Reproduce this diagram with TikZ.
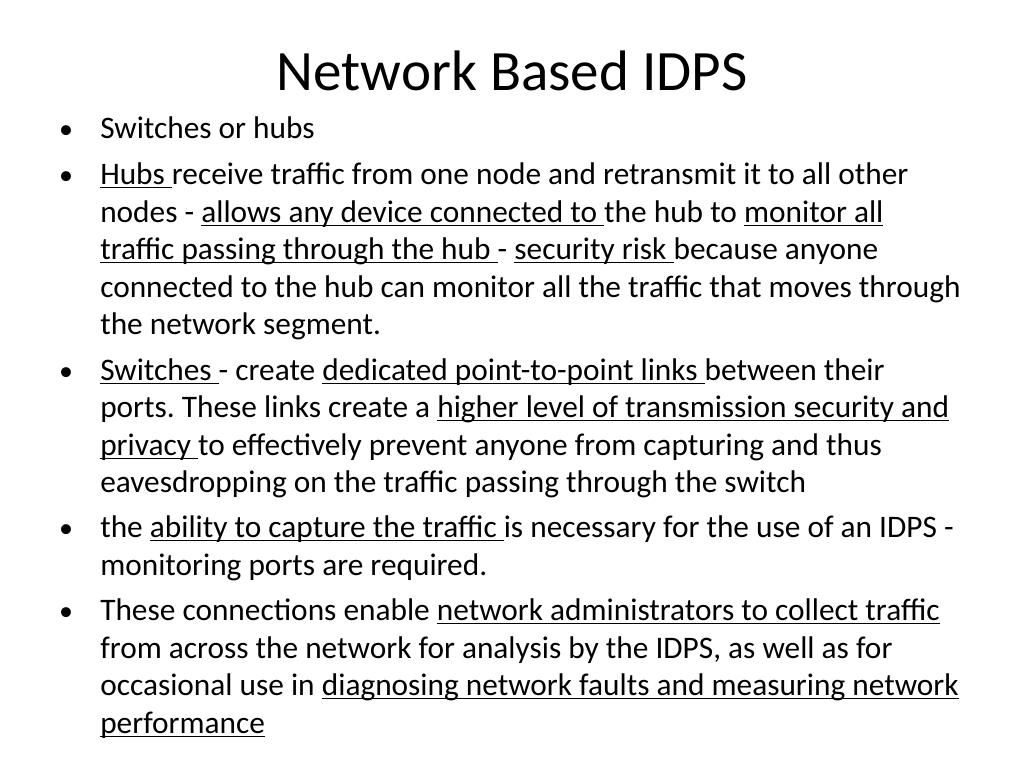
\documentclass[tikz,border=0pt]{standalone}
\usepackage{fontspec}
\setmainfont{Carlito}
\frenchspacing
\newcommand\myul[1]{\setbox0\hbox{#1}\rlap{\rule[-3.2pt]{\wd0}{0.9pt}}\box0}
\begin{document}
\begin{tikzpicture}[x=0.75pt,y=-0.75pt,
  ln/.style={anchor=base west,inner sep=0pt,font=\fontsize{23.5}{28}\selectfont},
  bl/.style={anchor=base,inner sep=0pt,font=\fontsize{21}{28}\selectfont}]
\useasboundingbox[fill=white] (0,0) rectangle (1024,768);
\node[anchor=base,inner sep=0pt,font=\fontsize{42.8}{50}\selectfont] (title) at (512,90) {Network Based IDPS};
\foreach \y [count=\i] in {138,184,380,537,620} {\node[bl] (b\i) at (66,\y) {•};}
\node[ln] (l1) at (100,138) {Switches or hubs};
\node[ln] (l2) at (100,184) {\myul{Hubs }receive traffic from one node and retransmit it to all other};
\node[ln] (l3) at (100,222) {nodes - \myul{allows any device connected to }the hub to \myul{monitor all}};
\node[ln] (l4) at (100,259) {\myul{traffic passing through the hub }- \myul{security risk }because anyone};
\node[ln] (l5) at (100,297) {connected to the hub can monitor all the traffic that moves through};
\node[ln] (l6) at (100,334) {the network segment.};
\node[ln] (l7) at (100,380) {\myul{Switches }- create \myul{dedicated point-to-point links }between their};
\node[ln] (l8) at (100,417) {ports. These links create a \myul{higher level of transmission security and}};
\node[ln] (l9) at (100,455) {\myul{privacy }to effectively prevent anyone from capturing and thus};
\node[ln] (l10) at (100,492) {eavesdropping on the traffic passing through the switch};
\node[ln] (l11) at (100,537) {the \myul{ability to capture the traffic }is necessary for the use of an IDPS -};
\node[ln] (l12) at (100,575) {monitoring ports are required.};
\node[ln] (l13) at (100,620) {These connections enable \myul{network administrators to collect traffic}};
\node[ln] (l14) at (100,658) {from across the network for analysis by the IDPS, as well as for};
\node[ln] (l15) at (100,695) {occasional use in \myul{diagnosing network faults and measuring network}};
\node[ln] (l16) at (100,733) {\myul{performance}};
\end{tikzpicture}
\end{document}
